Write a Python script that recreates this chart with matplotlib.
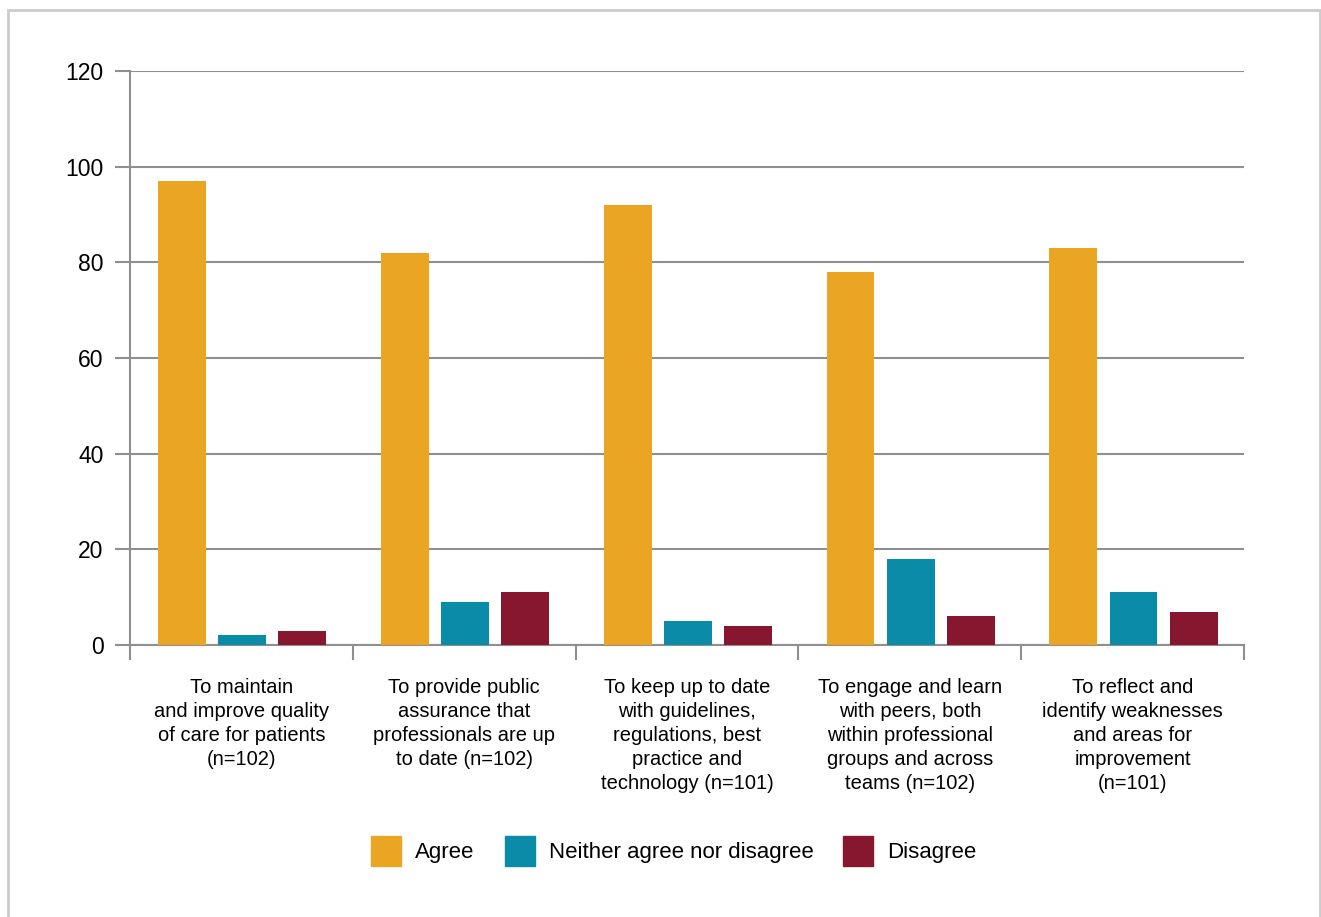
import matplotlib.pyplot as plt
import numpy as np
from matplotlib.patches import Patch, Rectangle

plt.rcParams['font.family'] = ['Liberation Sans', 'DejaVu Sans']

categories = [
    "To maintain\nand improve quality\nof care for patients\n(n=102)",
    "To provide public\nassurance that\nprofessionals are up\nto date (n=102)",
    "To keep up to date\nwith guidelines,\nregulations, best\npractice and\ntechnology (n=101)",
    "To engage and learn\nwith peers, both\nwithin professional\ngroups and across\nteams (n=102)",
    "To reflect and\nidentify weaknesses\nand areas for\nimprovement\n(n=101)",
]
agree = [97, 82, 92, 78, 83]
neither = [2, 9, 5, 18, 11]
disagree = [3, 11, 4, 6, 7]

series = [("Agree", agree, "#EAA623"),
          ("Neither agree nor disagree", neither, "#0A8CA8"),
          ("Disagree", disagree, "#87172F")]

grid_c = "#8f8f8f"

fig = plt.figure(figsize=(13.21, 9.17), dpi=100)
ax = fig.add_axes([130/1321, 1-645/917, (1244-130)/1321, (645-71)/917])

x = np.arange(len(categories))
w = 0.215
step = 0.27
for i, (name, vals, col) in enumerate(series):
    ax.bar(x + (i-1)*step + 0.004, vals, width=w, color=col, label=name, zorder=3)

ax.set_xlim(-0.5, len(categories)-0.5)
ax.set_ylim(0, 120)
ax.set_yticks(range(0, 121, 20))
ax.yaxis.grid(True, color=grid_c, linewidth=1.5, zorder=0)
ax.tick_params(axis='y', length=11, width=1.5, color=grid_c, pad=8, labelsize=16.5)

# category boundary ticks and centred labels
ax.set_xticks(np.arange(-0.5, len(categories)), labels=[])
ax.tick_params(axis='x', which='major', length=11, width=1.5, color=grid_c)
ax.set_xticks(x, labels=categories, minor=True)
ax.tick_params(axis='x', which='minor', length=0, pad=24, labelsize=14.5)
for lab in ax.get_xticklabels(minor=True):
    lab.set_linespacing(1.33)
    lab.set_verticalalignment('top')

for s in ['top', 'right']:
    ax.spines[s].set_visible(False)
for s in ['left', 'bottom']:
    ax.spines[s].set_color(grid_c)
    ax.spines[s].set_linewidth(1.5)

handles = [Patch(color=c, label=n) for n, _, c in series]
fig.legend(handles=handles, loc='center', bbox_to_anchor=(674/1321, 1-851/917),
           ncol=3, frameon=False, fontsize=16, handlelength=1.35, handleheight=1.7,
           handletextpad=0.63, columnspacing=1.35)

# light grey frame around the figure
fig.patches.append(Rectangle((8/1321, -0.01), (1320-8)/1321, 1-10/917+0.01,
                             transform=fig.transFigure, fill=False,
                             edgecolor="#cccccc", linewidth=2))

fig.savefig("out.png", dpi=100)
